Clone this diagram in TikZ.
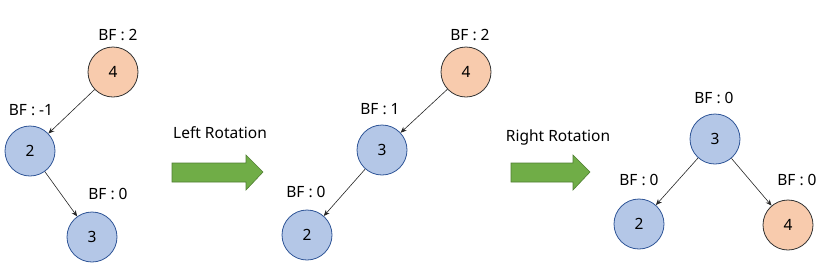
\documentclass[tikz,border=0pt]{standalone}
\usepackage{fontspec}
\setmainfont{Noto Sans}
\usetikzlibrary{arrows.meta}

\definecolor{nodeblue}{HTML}{B4C7E7}
\definecolor{edgeblue}{HTML}{2F5597}
\definecolor{nodeorange}{HTML}{F8CBAD}
\definecolor{arrowgreen}{HTML}{70AD47}
\definecolor{arrowedge}{HTML}{507E32}

\begin{document}
\begin{tikzpicture}[x=1pt,y=-1pt]
\tikzset{
  bluenode/.style={circle,draw=edgeblue,fill=nodeblue,line width=0.8pt,minimum size=50pt,inner sep=0pt,font=\fontsize{15.5}{18}\selectfont},
  rednode/.style={circle,draw=black!80,fill=nodeorange,line width=0.8pt,minimum size=50pt,inner sep=0pt,font=\fontsize{15.5}{18}\selectfont},
  bflabel/.style={inner sep=0pt,font=\fontsize{15.5}{18}\selectfont},
  child/.style={-{Stealth[length=6pt,width=5pt]},black!85,line width=0.6pt},
  rotarrow/.style={fill=arrowgreen,draw=arrowedge,line width=0.6pt}
}
\useasboundingbox (0,0) rectangle (832,277);
% before rotation
\node[rednode] (a_4) at (113,72) {4};
\node[bluenode] (a_2) at (30,151) {2};
\node[bluenode] (a_3) at (92,237) {3};
\node[bflabel] (bf_a_4) at (118,35) {BF : 2};
\node[bflabel] (bf_a_2) at (31,110) {BF : -1};
\node[bflabel] (bf_a_3) at (108,194) {BF : 0};
\draw[child] (a_4) -- (a_2);
\draw[child] (a_2) -- (a_3);
% left rotation
\node[bflabel] (t_left) at (220,133) {Left Rotation};
\draw[rotarrow] (172,163) -- (246,163) -- (246,155) -- (263,172) -- (246,190) -- (246,182) -- (172,182) -- cycle;
% after left rotation
\node[rednode] (b_4) at (466,72) {4};
\node[bluenode] (b_3) at (382,150) {3};
\node[bluenode] (b_2) at (307,235) {2};
\node[bflabel] (bf_b_4) at (470,35) {BF : 2};
\node[bflabel] (bf_b_3) at (380,109) {BF : 1};
\node[bflabel] (bf_b_2) at (306,192) {BF : 0};
\draw[child] (b_4) -- (b_3);
\draw[child] (b_3) -- (b_2);
% right rotation
\node[bflabel] (t_right) at (558,137) {Right Rotation};
\draw[rotarrow] (511,163) -- (573,163) -- (573,155) -- (590,172) -- (573,190) -- (573,182) -- (511,182) -- cycle;
% after right rotation
\node[bluenode] (c_3) at (715,139) {3};
\node[bluenode] (c_2) at (639,224) {2};
\node[rednode] (c_4) at (788,225) {4};
\node[bflabel] (bf_c_3) at (714,98) {BF : 0};
\node[bflabel] (bf_c_2) at (639,180) {BF : 0};
\node[bflabel] (bf_c_4) at (797,180) {BF : 0};
\draw[child] (c_3) -- (c_2);
\draw[child] (c_3) -- (c_4);
\end{tikzpicture}
\end{document}
